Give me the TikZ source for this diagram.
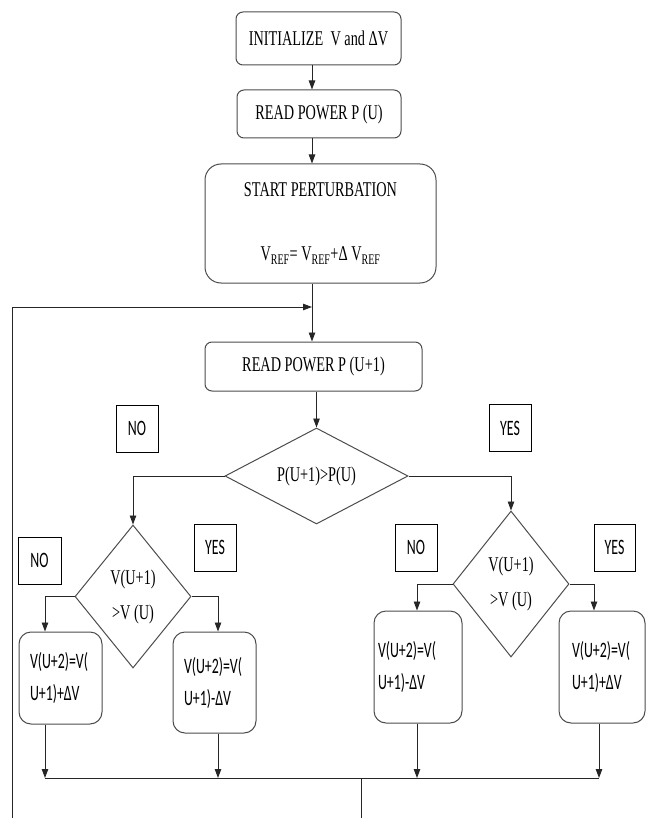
\documentclass[tikz,border=0pt]{standalone}
\usepackage{fontspec}
\setmainfont[FakeStretch=0.68]{Liberation Serif}
\newfontfamily\calfont[FakeStretch=0.63]{Carlito}
\usepackage{tikz}
\usetikzlibrary{calc, shapes.geometric, arrows.meta}

\tikzset{
  flowbox/.style={draw=black!70, line width=1pt, rounded corners=7pt, inner sep=0pt,
    font=\fontsize{21}{25}\selectfont, align=center},
  decision/.style={draw=black!70, line width=1pt, diamond, inner sep=0pt,
    font=\fontsize{21}{35}\selectfont, align=center},
  answer/.style={draw=black, line width=1pt, inner sep=0pt, minimum width=42pt,
    minimum height=47pt, font=\calfont\fontsize{22}{26}\selectfont},
  update/.style={draw=black!70, line width=1pt, rounded corners=12pt, inner ysep=0pt,
    font=\calfont\fontsize{22}{32}\selectfont, align=left},
  flow/.style={draw=black!85, line width=0.9pt},
  arr/.style={flow, -{Triangle[length=9pt,width=6.5pt]}}
}

\begin{document}
\begin{tikzpicture}[x=1pt, y=-1pt]
  \useasboundingbox (0,0) rectangle (646,818);
  \coordinate (spine) at (312,0);
  \coordinate (bus) at (0,778);
  \coordinate (loopin) at (312,307);
  \coordinate (loop) at (12,818);
  \coordinate (out) at (361,818);
  \coordinate (dropA) at (45,0);
  \coordinate (dropB) at (218,0);
  \coordinate (dropC) at (417,0);
  \coordinate (dropD) at (594,0);
  \coordinate (dropE) at (599,0);
  % main column
  \node[flowbox, minimum width=165pt, minimum height=53pt] (init) at (318.5,38.5) {INITIALIZE\ \ V and ΔV};
  \node[flowbox, minimum width=164pt, minimum height=48pt] (readP) at (319,114) {READ POWER P (U)};
  \node[flowbox, rounded corners=16pt, minimum width=231pt, minimum height=119pt] (perturb) at (320.5,223.5)
    {START PERTURBATION\\[39pt]V\textsubscript{REF}= V\textsubscript{REF}+Δ V\textsubscript{REF}};
  \node[flowbox, minimum width=217pt, minimum height=49pt] (readPn) at (313.5,366.5) {READ POWER P (U+1)};
  % decisions
  \node[decision, aspect=2, minimum width=183pt, minimum height=96pt] (cmpP) at (316.5,476) {P(U+1)>P(U)};
  \node[decision, aspect=0.8, minimum width=116pt, minimum height=143pt] (cmpVl) at (133,596.5) {V(U+1)\\>V (U)};
  \node[decision, aspect=0.8, minimum width=116pt, minimum height=146pt] (cmpVr) at (511,584) {V(U+1)\\>V (U)};
  % answers
  \node[answer] (noP) at (137,428.5) {NO};
  \node[answer] (yesP) at (510,428) {YES};
  \node[answer, minimum width=43pt] (noVl) at (39.5,560.5) {NO};
  \node[answer] (yesVl) at (215,547.5) {YES};
  \node[answer] (noVr) at (416,547.5) {NO};
  \node[answer, minimum width=41pt] (yesVr) at (614.5,547.5) {YES};
  % new voltage
  \node[update, text width=61pt, inner xsep=11pt, minimum height=92pt] (incL) at (60.5,678) {V(U+2)=V(\\U+1)+ΔV};
  \node[update, text width=61pt, inner xsep=11pt, minimum height=101pt] (decL) at (214.5,682.5) {V(U+2)=V(\\U+1)-ΔV};
  \node[update, text width=80pt, inner xsep=4pt, minimum height=112pt] (decR) at (418,667) {V(U+2)=V(\\U+1)-ΔV};
  \node[update, text width=60pt, inner xsep=13pt, minimum height=112pt] (incR) at (602,667) {V(U+2)=V(\\U+1)+ΔV};
  % connectors
  \draw[arr] (init.south -| spine) -- (readP.north -| spine);
  \draw[arr] (readP.south -| spine) -- (perturb.north -| spine);
  \draw[arr] (perturb.south -| spine) -- (readPn.north -| spine);
  \draw[arr] (loop) |- (loopin);
  \draw[arr] (readPn.south -| cmpP.north) -- (cmpP.north);
  \draw[arr] (cmpP.west) -| (cmpVl.north);
  \draw[arr] (cmpP.east) -| (cmpVr.north);
  \draw[arr] (cmpVl.west) -| (dropA |- incL.north);
  \draw[arr] (cmpVl.east) -| (dropB |- decL.north);
  \draw[arr] (cmpVr.west) -| (dropC |- decR.north);
  \draw[arr] (cmpVr.east) -| (dropD |- incR.north);
  \draw[arr] (dropA |- incL.south) -- (dropA |- bus);
  \draw[arr] (dropB |- decL.south) -- (dropB |- bus);
  \draw[arr] (dropC |- decR.south) -- (dropC |- bus);
  \draw[arr] (dropE |- incR.south) -- (dropE |- bus);
  \draw[flow] (dropA |- bus) -- (dropE |- bus);
  \draw[flow] (out |- bus) -- (out);
\end{tikzpicture}
\end{document}
